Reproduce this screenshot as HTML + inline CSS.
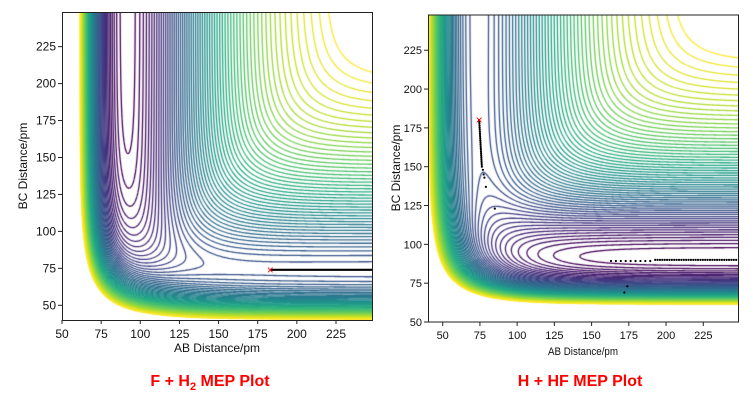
<!DOCTYPE html>
<html><head><meta charset="utf-8"><style>
body{margin:0;background:#fff;width:753px;height:403px;overflow:hidden;position:relative;font-family:"Liberation Sans",sans-serif}
canvas{position:absolute}
svg{position:absolute;left:0;top:0}
</style></head><body>
<canvas id="c1" width="310" height="308" style="left:62px;top:12px"></canvas>
<canvas id="c2" width="310" height="307" style="left:428px;top:15px"></canvas>
<svg width="753" height="403" id="ov" font-family="Liberation Sans, sans-serif">
<rect x="62.5" y="12.5" width="310" height="308" fill="none" stroke="#222" stroke-width="1"/>
<rect x="428.5" y="15" width="310" height="307" fill="none" stroke="#222" stroke-width="1"/>
<text x="217" y="352" font-size="12" text-anchor="middle" fill="#111">AB Distance/pm</text>
<text transform="translate(27,166) rotate(-90)" font-size="12" text-anchor="middle" fill="#111">BC Distance/pm</text>
<text x="583" y="355" font-size="11" text-anchor="middle" fill="#111" textLength="70" lengthAdjust="spacingAndGlyphs">AB Distance/pm</text>
<text transform="translate(400,168) rotate(-90)" font-size="12" text-anchor="middle" fill="#111">BC Distance/pm</text>
<text x="210" y="386" font-size="16" font-weight="bold" text-anchor="middle" fill="#f00">F + H<tspan font-size="11" dy="4">2</tspan><tspan dy="-4"> MEP Plot</tspan></text>
<text x="580" y="386" font-size="16" font-weight="bold" text-anchor="middle" fill="#f00">H + HF MEP Plot</text>
<g id="g"></g>
</svg>
<script>
const V=[[0,[68,1,84]],[.1,[72,36,117]],[.2,[65,68,135]],[.3,[53,95,141]],[.4,[42,120,142]],[.5,[33,145,140]],[.6,[34,168,132]],[.7,[68,191,112]],[.8,[122,209,81]],[.9,[189,223,38]],[1,[253,231,37]]];
function vir(t){for(let i=1;i<V.length;i++){if(t<=V[i][0]){const a=V[i-1],b=V[i],f=(t-a[0])/(b[0]-a[0]);return 'rgb('+a[1].map((c,k)=>Math.round(c+(b[1][k]-c)*f)).join(',')+')';}}return 'rgb(253,231,37)';}
const S=0.18;
function pair(r,p){const e=Math.exp(-p.b*(r-p.re));const k=p.D/(4*(1+S));return[k*((3+S)*e*e-(2+6*S)*e),k*((1+3*S)*e*e-(6+2*S)*e)];}
function leps(x,y,pa,pb,pc){const a=pair(x,pa),b=pair(y,pb),c=pair(x+y,pc);return a[0]+b[0]+c[0]-Math.sqrt(((a[1]-b[1])**2+(b[1]-c[1])**2+(c[1]-a[1])**2)/2);}
const HF={D:590,b:0.0219,re:91.7},HH={D:458,b:0.0194,re:74.1};
function draw(id,X0,X1,Y0,Y1,f,L0,L1,N){
 const cv=document.getElementById(id),ctx=cv.getContext('2d'),W=cv.width,H=cv.height;
 const g=[];for(let j=0;j<=H;j++){const r=[];const y=Y1-(j/H)*(Y1-Y0);for(let i=0;i<=W;i++){r.push(f(X0+(i/W)*(X1-X0),y));}g.push(r);}
 ctx.lineWidth=1.3;
 for(let k=0;k<N;k++){const L=L0+(L1-L0)*k/(N-1);ctx.strokeStyle=vir(k/(N-1));ctx.beginPath();
  for(let j=0;j<H;j++)for(let i=0;i<W;i++){
   const a=g[j][i],b=g[j][i+1],c=g[j+1][i+1],d=g[j+1][i];
   const pts=[];
   if((a<L)!=(b<L))pts.push([i+(L-a)/(b-a),j]);
   if((b<L)!=(c<L))pts.push([i+1,j+(L-b)/(c-b)]);
   if((d<L)!=(c<L))pts.push([i+(L-d)/(c-d),j+1]);
   if((a<L)!=(d<L))pts.push([i,j+(L-a)/(d-a)]);
   if(pts.length>=2){ctx.moveTo(pts[0][0],pts[0][1]);ctx.lineTo(pts[1][0],pts[1][1]);}
   if(pts.length==4){ctx.moveTo(pts[2][0],pts[2][1]);ctx.lineTo(pts[3][0],pts[3][1]);}
  }ctx.stroke();}
}
draw('c1',50,248,40.05,248.4,(x,y)=>leps(x,y,HF,HH,HF),-583,-72,60);
draw('c2',40.1,248.3,50,247.9,(x,y)=>leps(x,y,HH,HF,HF),-580,-72,60);
const ns='http://www.w3.org/2000/svg',G=document.getElementById('g');
function el(t,a,txt){const e=document.createElementNS(ns,t);for(const k in a)e.setAttribute(k,a[k]);if(txt)e.textContent=txt;G.appendChild(e);return e;}
for(let v=50;v<=225;v+=25){
 let px=62+(v-50)*1.5657;el('line',{x1:px,y1:320,x2:px,y2:324,stroke:'#222'});el('text',{x:px,y:338,'font-size':12,'text-anchor':'middle',fill:'#111'},v);
 let py=305.3-(v-50)*1.478;el('line',{x1:58,y1:py,x2:62,y2:py,stroke:'#222'});el('text',{x:56,y:py+4,'font-size':12,'text-anchor':'end',fill:'#111'},v);
 px=442.7+(v-50)*1.489;el('line',{x1:px,y1:322,x2:px,y2:326,stroke:'#222'});el('text',{x:px,y:339,'font-size':11,'text-anchor':'middle',fill:'#111'},v);
 py=322-(v-50)*1.553;el('line',{x1:424,y1:py,x2:428,y2:py,stroke:'#222'});el('text',{x:422,y:py+4,'font-size':11,'text-anchor':'end',fill:'#111'},v);
}
const lx=v=>62+(v-50)*1.5657,ly=v=>305.3-(v-50)*1.478;
el('line',{x1:lx(183),y1:ly(74),x2:372,y2:ly(74),stroke:'#000','stroke-width':2.2});
el('text',{x:lx(183),y:ly(74)+4,'font-size':12,'text-anchor':'middle',fill:'#f00'},'×');
const rx=v=>442.7+(v-50)*1.489,ry=v=>322-(v-50)*1.553;
const pts=[];for(let y=180;y>=150;y-=1.2)pts.push([74.5+(180-y)*0.06,y]);
pts.push([77,148],[77.5,145],[78,143],[79,137],[85,123],[172,69],[174,73]);
for(let x=163;x<248;x+=(x<190?3.3:1.6))pts.push([x,x<192?89.3:90]);
pts.forEach(p=>el('circle',{cx:rx(p[0]),cy:ry(p[1]),r:1.1,fill:'#000'}));
el('text',{x:rx(74.5),y:ry(180)+4,'font-size':12,'text-anchor':'middle',fill:'#f00'},'×');
</script>
</body></html>
